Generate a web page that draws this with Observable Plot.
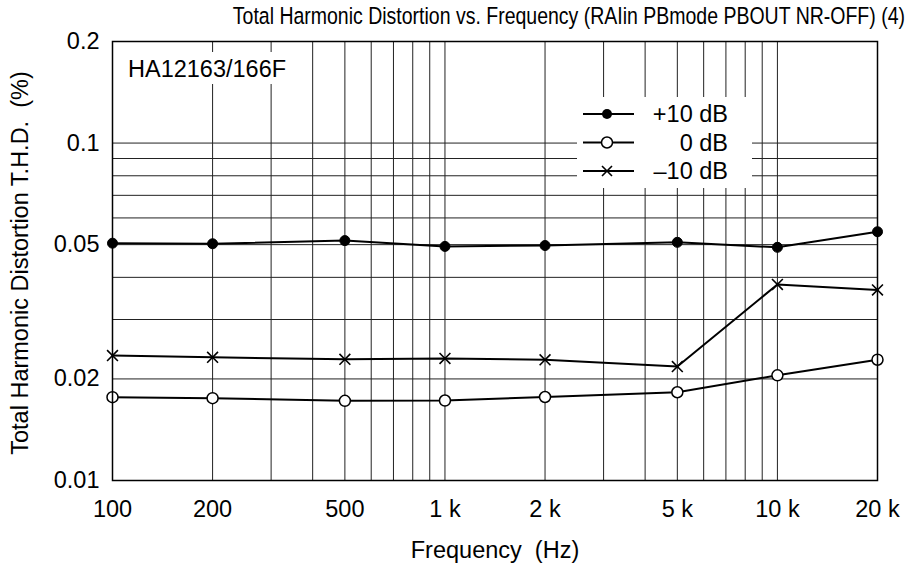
<!DOCTYPE html>
<html><head><meta charset="utf-8">
<script src="https://cdn.jsdelivr.net/npm/d3@7"></script>
<script src="https://cdn.jsdelivr.net/npm/@observablehq/plot@0.6"></script>
<style>html,body{margin:0;padding:0;background:#fff;}</style>
</head><body><div id="chart"></div>
<script>
const frequencies = [100, 200, 500, 1000, 2000, 5000, 10000, 20000];
const seriesNames = ["+10 dB", "0 dB", "\u201310 dB"];
const thdPlus10 = [0.0505, 0.0503, 0.0514, 0.0494, 0.0497, 0.0508, 0.0491, 0.0546];
const thdZero = [0.01766, 0.01754, 0.01722, 0.01726, 0.01768, 0.01826, 0.0205, 0.0228];
const thdMinus10 = [0.02346, 0.02318, 0.02287, 0.0230, 0.02278, 0.02176, 0.0381, 0.0367];
const xTicks = [100, 200, 500, 1000, 2000, 5000, 10000, 20000];
const xTickLabels = ["100", "200", "500", "1 k", "2 k", "5 k", "10 k", "20 k"];
const yTicks = [0.01, 0.02, 0.05, 0.1, 0.2];
const yTickLabels = ["0.01", "0.02", "0.05", "0.1", "0.2"];
const xGrid = [200, 300, 400, 500, 600, 700, 800, 900, 1000, 2000, 3000, 4000, 5000, 6000, 7000, 8000, 9000, 10000];
const yGrid = [0.02, 0.03, 0.04, 0.05, 0.06, 0.07, 0.08, 0.09, 0.1];
const TITLE = "Total Harmonic Distortion vs. Frequency (RAIin PBmode PBOUT NR-OFF) (4)";
const X_LABEL = "Frequency  (Hz)";
const Y_LABEL = "Total Harmonic Distortion T.H.D.  (%)";
const DEVICE_LABEL = "HA12163/166F";

const FONT = "'Liberation Sans', Arial, Helvetica, sans-serif";
const FS = 23.5;
const seriesValues = [thdPlus10, thdZero, thdMinus10];
const rows = [];
seriesValues.forEach((vals, s) => vals.forEach((v, i) => rows.push({f: frequencies[i], v, s: seriesNames[s]})));
const bySeries = (name) => rows.filter(r => r.s === name);

const chart = Plot.plot({
  width: 912, height: 564,
  marginLeft: 112, marginRight: 35, marginTop: 41, marginBottom: 84,
  style: {fontFamily: FONT, fontSize: FS + "px", color: "black", background: "white"},
  x: {type: "log", domain: [100, 20000]},
  y: {type: "log", domain: [0.01, 0.2]},
  marks: [
    Plot.ruleX(xGrid, {stroke: "#222", strokeWidth: 1}),
    Plot.ruleY(yGrid, {stroke: "#222", strokeWidth: 1}),
    Plot.axisX({ticks: xTicks, tickFormat: d => xTickLabels[xTicks.indexOf(d)], tickSize: 0, tickPadding: 20, label: null, fontSize: FS}),
    Plot.axisY({ticks: yTicks, tickFormat: d => yTickLabels[yTicks.indexOf(d)], tickSize: 0, tickPadding: 13, label: null, fontSize: FS}),
    Plot.line(rows, {x: "f", y: "v", z: "s", stroke: "black", strokeWidth: 2}),
    Plot.dot(bySeries(seriesNames[0]), {x: "f", y: "v", r: 5, fill: "black", stroke: "black", strokeWidth: 1}),
    Plot.dot(bySeries(seriesNames[1]), {x: "f", y: "v", r: 5.5, fill: "white", stroke: "black", strokeWidth: 1.5}),
    Plot.dot(bySeries(seriesNames[2]), {x: "f", y: "v", r: 5, symbol: "times", stroke: "black", strokeWidth: 1.6}),
    Plot.frame({stroke: "black", strokeWidth: 1.5}),
    Plot.text([Y_LABEL], {text: d => d, frameAnchor: "left", rotate: -90, dx: -85, dy: 2, textAnchor: "middle", lineAnchor: "bottom", fontSize: FS}),
    Plot.text([X_LABEL], {text: d => d, frameAnchor: "bottom", dy: 77, textAnchor: "middle", lineAnchor: "bottom", fontSize: FS})
  ]
});
document.getElementById("chart").append(chart);
const svg = d3.select(chart);

// title: condensed (narrow) face, right end at x=905, baseline y=24.3
svg.append("text")
  .attr("transform", "translate(905,24.3) scale(0.83,1)")
  .attr("text-anchor", "end")
  .attr("font-family", FONT).attr("font-size", 23.5)
  .text(TITLE);

// device label with white background
const lab = svg.append("g").attr("font-family", FONT).attr("font-size", FS);
lab.append("rect").attr("x", 122).attr("y", 52).attr("width", 176).attr("height", 32).attr("fill", "white");
lab.append("text").attr("x", 128).attr("y", 77.3).attr("text-anchor", "start").text(DEVICE_LABEL);

// legend
const leg = svg.append("g").attr("font-family", FONT).attr("font-size", FS);
leg.append("rect").attr("x", 577).attr("y", 97).attr("width", 175).attr("height", 91).attr("fill", "white");
seriesNames.forEach((name, i) => {
  const cy = 114 + i * 28.5;
  leg.append("line").attr("x1", 583).attr("x2", 634).attr("y1", cy).attr("y2", cy).attr("stroke", "black").attr("stroke-width", 2);
  if (i === 0) leg.append("circle").attr("cx", 607).attr("cy", cy).attr("r", 5).attr("fill", "black");
  else if (i === 1) leg.append("circle").attr("cx", 607).attr("cy", cy).attr("r", 5.5).attr("fill", "white").attr("stroke", "black").attr("stroke-width", 1.5);
  else leg.append("path").attr("d", `M${607-5},${cy-5}L${607+5},${cy+5}M${607-5},${cy+5}L${607+5},${cy-5}`).attr("stroke", "black").attr("stroke-width", 1.6).attr("fill", "none");
  leg.append("text").attr("x", 728).attr("y", cy + 8).attr("text-anchor", "end").text(name);
});
</script></body></html>
